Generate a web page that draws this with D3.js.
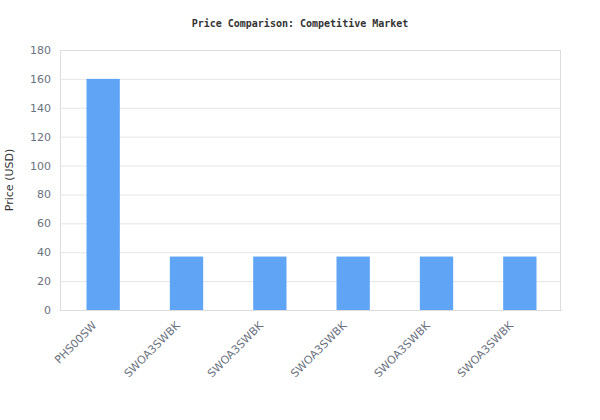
<!DOCTYPE html>
<html>
<head>
<meta charset="utf-8">
<script src="https://cdn.jsdelivr.net/npm/d3@7"></script>
<style>
  body { margin: 0; background: #fff; }
  svg { display: block; }
</style>
</head>
<body>
<svg id="chart"></svg>
<script>
const products = ["PHS00SW", "SWOA3SWBK", "SWOA3SWBK", "SWOA3SWBK", "SWOA3SWBK", "SWOA3SWBK"]
const prices = [160, 37, 37, 37, 37, 37]
const yTicks = [0, 20, 40, 60, 80, 100, 120, 140, 160, 180]

const [width, height] = [600, 420]
const plot = { left: 60, right: 560, top: 50, bottom: 310 }

const svg = d3.select("#chart")
  .attr("width", width)
  .attr("height", height)

const x = d3.scaleBand()
  .domain(products.map((d, i) => i))
  .range([plot.left + 1.5, plot.right + 1.5])
  .paddingInner(0.6)
  .paddingOuter(0.3)

const y = d3.scaleLinear()
  .domain([0, 180])
  .range([plot.bottom, plot.top])

// grid lines
svg.append("g")
  .selectAll("line")
  .data(yTicks)
  .enter()
  .append("line")
  .attr("x1", plot.left)
  .attr("x2", plot.right)
  .attr("y1", (d) => y(d) + 0.5)
  .attr("y2", (d) => y(d) + 0.5)
  .attr("stroke", "#e5e5e5")
  .attr("stroke-width", 1)

// frame
svg.append("rect")
  .attr("x", plot.left + 0.5)
  .attr("y", plot.top + 0.5)
  .attr("width", plot.right - plot.left)
  .attr("height", plot.bottom - plot.top)
  .attr("fill", "none")
  .attr("stroke", "#dddddd")

// bars
svg.append("g")
  .selectAll("rect")
  .data(prices)
  .enter()
  .append("rect")
  .attr("x", (d, i) => x(i))
  .attr("width", x.bandwidth())
  .attr("y", (d) => y(d))
  .attr("height", (d) => y(0) - y(d))
  .attr("fill", "#60a5f5")

// y axis
const yAxis = svg.append("g")
  .attr("transform", `translate(${plot.left},0)`)
  .call(d3.axisLeft(y).tickValues(yTicks).tickSize(0).tickPadding(9))
yAxis.select(".domain").remove()
yAxis.selectAll("text")
  .attr("fill", "#6b7280")
  .attr("font-family", "DejaVu Sans, sans-serif")
  .attr("font-size", 11)

// x axis
const xAxis = svg.append("g")
  .attr("transform", `translate(0,${plot.bottom})`)
  .call(d3.axisBottom(x).tickFormat((i) => products[i]).tickSize(0))
xAxis.select(".domain").attr("stroke", "#dddddd")
xAxis.selectAll("text")
  .attr("fill", "#6b7280")
  .attr("font-family", "DejaVu Sans, sans-serif")
  .attr("font-size", 11)
  .attr("text-anchor", "end")
  .attr("dy", null)
  .attr("transform", "translate(-8,14) rotate(-45)")

// axis title
svg.append("text")
  .attr("transform", `translate(13,${(plot.top + plot.bottom) / 2}) rotate(-90)`)
  .attr("text-anchor", "middle")
  .attr("font-family", "DejaVu Sans, sans-serif")
  .attr("font-size", 11)
  .attr("fill", "#333")
  .text("Price (USD)")

// chart title
svg.append("text")
  .attr("x", width / 2)
  .attr("y", 27)
  .attr("text-anchor", "middle")
  .attr("font-family", "DejaVu Sans Mono, monospace")
  .attr("font-weight", "bold")
  .attr("font-size", 10)
  .attr("fill", "#333")
  .text("Price Comparison: Competitive Market")
</script>
</body>
</html>
